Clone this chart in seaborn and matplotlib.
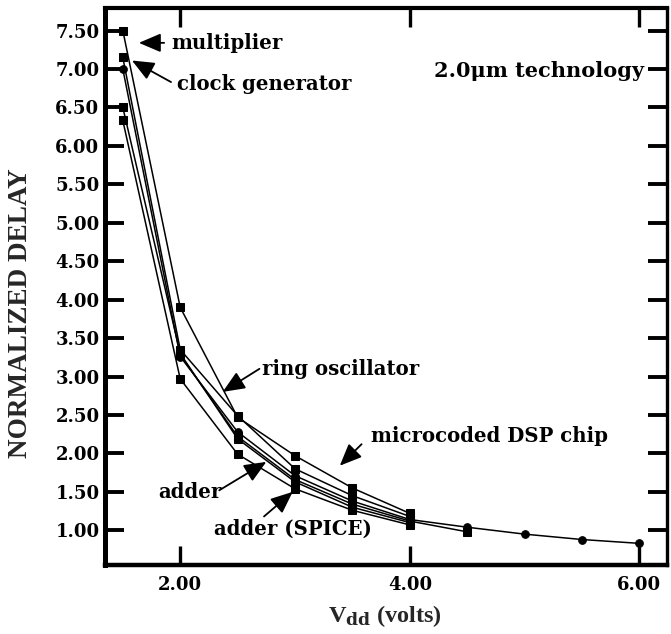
import matplotlib
matplotlib.use("Agg")
import matplotlib.pyplot as plt
import numpy as np
import pandas as pd
import seaborn as sns

# Supply voltage (V) at each measurement point
vdd = [1.5, 2.0, 2.5, 3.0, 3.5, 4.0, 4.5, 5.0, 5.5, 6.0]

# Normalized delay of each circuit
multiplier = [7.50, 3.90, 2.47, 1.97, 1.55, 1.22]
clock_generator = [7.15, 3.35, 2.49, 1.80, 1.45, 1.18]
ring_oscillator = [7.00, 3.26, 2.28, 1.71, 1.38, 1.14, 1.04, 0.95, 0.88, 0.83]
dsp_chip = [6.50, 3.30, 2.19, 1.63, 1.30, 1.10]
adder = [6.33, 2.97, 1.99, 1.54, 1.26, 1.07]
adder_spice = [3.28, 2.22, 1.66, 1.34, 1.12, 0.98]
adder_spice_vdd = [2.0, 2.5, 3.0, 3.5, 4.0, 4.5]

y_ticks = [1.0, 1.5, 2.0, 2.5, 3.0, 3.5, 4.0, 4.5, 5.0, 5.5, 6.0, 6.5, 7.0, 7.5]
x_ticks = [2.0, 4.0, 6.0]

series = {
    "multiplier": (vdd, multiplier),
    "clock generator": (vdd, clock_generator),
    "ring oscillator": (vdd, ring_oscillator),
    "microcoded DSP chip": (vdd, dsp_chip),
    "adder": (vdd, adder),
    "adder (SPICE)": (adder_spice_vdd, adder_spice),
}

rows = []
for name, (xs, ys) in series.items():
    for x, y in zip(xs, ys):
        rows.append({"Vdd": x, "delay": y, "circuit": name})
df = pd.DataFrame(rows)

sns.set_theme(style="white")
plt.rcParams["font.family"] = ["DejaVu Serif"]
plt.rcParams["font.weight"] = "bold"
plt.rcParams["mathtext.fontset"] = "dejavuserif"

fig = plt.figure(figsize=(6.71, 6.34), dpi=100)
ax = fig.add_axes([0.1565, 0.109, 0.8375, 0.878])

markers = {
    "multiplier": "s",
    "clock generator": "s",
    "ring oscillator": "o",
    "microcoded DSP chip": "s",
    "adder": "s",
    "adder (SPICE)": "s",
}
sns.lineplot(
    data=df, x="Vdd", y="delay", hue="circuit", style="circuit",
    palette=["black"] * len(series), markers=markers, dashes=False,
    markersize=5.5, linewidth=1.1, sort=True, legend=False, ax=ax,
    markeredgecolor="black",
)

ax.set_xlim(1.345, 6.24)
ax.set_ylim(0.55, 7.79)
ax.set_xticks(x_ticks)
ax.set_xticklabels([f"{v:.2f}" for v in x_ticks])
ax.set_yticks(y_ticks)
ax.set_yticklabels([f"{v:.2f}" for v in y_ticks])

for side in ["left", "bottom", "top", "right"]:
    ax.spines[side].set_visible(True)
    ax.spines[side].set_color("black")
ax.spines["left"].set_linewidth(3.6)
ax.spines["bottom"].set_linewidth(3.2)
ax.spines["top"].set_linewidth(3.0)
ax.spines["right"].set_linewidth(2.4)

ax.tick_params(axis="y", which="both", direction="in", length=14, width=2.8,
               left=True, right=True, labelsize=13, pad=4, colors="black")
ax.tick_params(axis="x", which="both", direction="in", length=14, width=2.4,
               bottom=True, top=True, labelsize=13, pad=8, colors="black")
for lab in ax.get_xticklabels() + ax.get_yticklabels():
    lab.set_fontweight("bold")

ax.set_ylabel("NORMALIZED DELAY", fontsize=19.5, fontweight="bold",
              family="Liberation Serif")
ax.yaxis.set_label_coords(-0.128, 0.452)
ax.set_xlabel(r"V$_{\mathbf{dd}}$ (volts)", fontsize=17.5, fontweight="bold",
              family="Liberation Serif")
ax.xaxis.set_label_coords(0.498, -0.068)

arrow = dict(arrowstyle="-|>,head_length=0.75,head_width=0.32", color="black",
             lw=1.3, shrinkA=0, shrinkB=0, mutation_scale=18)
txt = dict(fontsize=14.2, fontweight="bold", va="center", color="black")

# curve labels: (text, text anchor, arrow tail, arrow tip)
labels = [
    ("multiplier", (1.92, 7.34), (1.86, 7.34), (1.64, 7.34)),
    ("clock generator", (1.97, 6.80), (1.92, 6.83), (1.58, 7.11)),
    ("ring oscillator", (2.71, 3.10), (2.69, 3.10), (2.37, 2.80)),
    ("microcoded DSP chip", (3.66, 2.22), (3.58, 2.12), (3.39, 1.84)),
    ("adder", (1.81, 1.50), (2.34, 1.52), (2.75, 1.89)),
    ("adder (SPICE)", (2.29, 1.02), (2.73, 1.18), (2.98, 1.50)),
]
for text, pos, tail, tip in labels:
    ax.text(pos[0], pos[1], text, ha="left", **txt)
    ax.annotate("", xy=tip, xytext=tail, arrowprops=arrow)

tech = dict(txt, fontsize=15)
ax.text(6.04, 6.98, "2.0\u03bcm technology", ha="right", **tech)

fig.savefig("out.png", dpi=100)
